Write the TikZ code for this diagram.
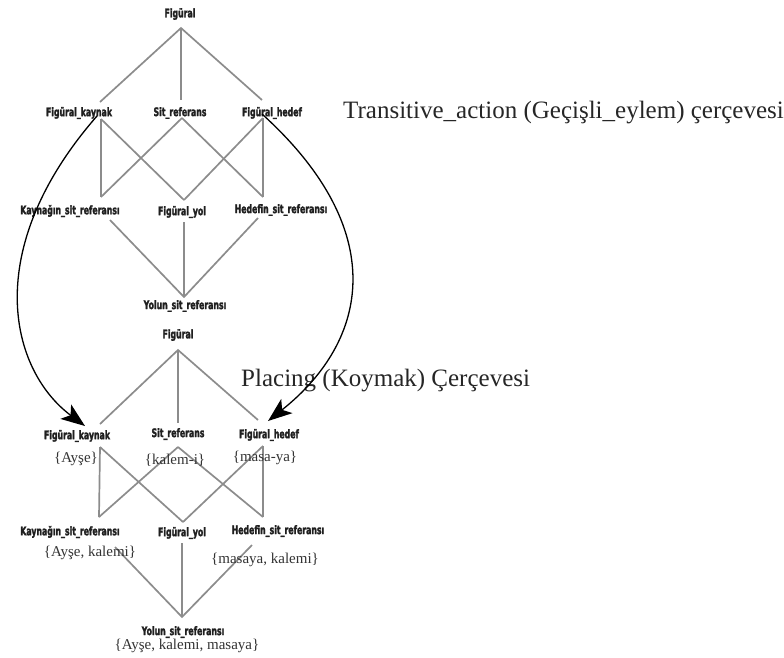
\documentclass[tikz,border=0pt]{standalone}
\usepackage{fontspec}
\setmainfont{Liberation Serif}
\newfontfamily\labfont[FakeStretch=0.66,FakeBold=2]{DejaVu Sans Bold}
\usetikzlibrary{arrows.meta}
\tikzset{
  lab/.style={font=\labfont\fontsize{11.8}{13}\selectfont, text=black!88, inner sep=0pt},
  setlab/.style={font=\fontsize{15}{17}\selectfont, text=black!80, inner sep=0pt},
  title/.style={font=\fontsize{25}{29}\selectfont, text=black!85, inner sep=0pt, anchor=west},
  lat/.style={draw=black!45, line width=1.7pt},
  mapto/.style={draw=black, line width=1.3pt, -{Stealth[length=24pt,width=18pt,inset=6pt]}}
}
\begin{document}
\begin{tikzpicture}[x=1pt,y=-1pt]
\useasboundingbox (0,0) rectangle (784,657);
% ---------- top lattice ----------
\coordinate (tA) at (181,28);
\coordinate (tKt) at (100,102); \coordinate (tSt) at (181,100); \coordinate (tHt) at (262,100);
\coordinate (tKb) at (101,119); \coordinate (tSb) at (182,118); \coordinate (tHb) at (263,118);
\coordinate (tKSt) at (101,197); \coordinate (tYt) at (184,200); \coordinate (tHSt) at (263,197);
\coordinate (tKSb) at (110,220); \coordinate (tYb) at (184,222); \coordinate (tHSb) at (258,218);
\coordinate (tYS) at (184,297);
\draw[lat] (tKt) -- (tA) -- (tHt);
\draw[lat] (tA) -- (tSt);
\draw[lat] (tKb) -- (tKSt);
\draw[lat] (tKb) -- (tYt);
\draw[lat] (tSb) -- (tKSt);
\draw[lat] (tSb) -- (tHSt);
\draw[lat] (tHb) -- (tYt);
\draw[lat] (tHb) -- (tHSt);
\draw[lat] (tKSb) -- (tYS) -- (tHSb);
\draw[lat] (tYb) -- (tYS);
\node[lab] (tFig) at (180,14) {Figüral};
\node[lab] (tFK) at (79,113) {Figüral\_kaynak};
\node[lab] (tSR) at (180,113) {Sit\_referans};
\node[lab] (tFH) at (272,113) {Figüral\_hedef};
\node[lab] (tKSR) at (70,211) {Kaynağın\_sit\_referansı};
\node[lab] (tFY) at (182,212) {Figüral\_yol};
\node[lab] (tHSR) at (281,210) {Hedefin\_sit\_referansı};
\node[lab] (tYSR) at (185,306) {Yolun\_sit\_referansı};
\node[title] (tTitle) at (343,113) {Transitive\_action (Geçişli\_eylem) çerçevesi};
% ---------- bottom lattice ----------
\coordinate (bA) at (178,350);
\coordinate (bKt) at (100,424); \coordinate (bSt) at (178,423); \coordinate (bHt) at (258,420);
\coordinate (bKb) at (100,447); \coordinate (bSb) at (178,447); \coordinate (bHb) at (263,446);
\coordinate (bKSt) at (99,517); \coordinate (bYt) at (183,522); \coordinate (bHSt) at (263,517);
\coordinate (bKSb) at (115,547); \coordinate (bYb) at (182,543); \coordinate (bHSb) at (252,545);
\coordinate (bYS) at (182,617);
\draw[lat] (bKt) -- (bA) -- (bHt);
\draw[lat] (bA) -- (bSt);
\draw[lat] (bKb) -- (bKSt);
\draw[lat] (bKb) -- (bYt);
\draw[lat] (bSb) -- (bKSt);
\draw[lat] (bSb) -- (bHSt);
\draw[lat] (bHb) -- (bYt);
\draw[lat] (bHb) -- (bHSt);
\draw[lat] (bKSb) -- (bYS) -- (bHSb);
\draw[lat] (bYb) -- (bYS);
\node[lab] (bFig) at (178,335) {Figüral};
\node[lab] (bFK) at (77,436) {Figüral\_kaynak};
\node[lab] (bSR) at (178,434) {Sit\_referans};
\node[lab] (bFH) at (269,435) {Figüral\_hedef};
\node[lab] (bKSR) at (70,532) {Kaynağın\_sit\_referansı};
\node[lab] (bFY) at (182,533) {Figüral\_yol};
\node[lab] (bHSR) at (278,531) {Hedefin\_sit\_referansı};
\node[lab] (bYSR) at (183,632) {Yolun\_sit\_referansı};
\node[setlab] (sAy) at (76,459) {\{Ayşe\}};
\node[setlab] (sKa) at (175,460) {\{kalem-i\}};
\node[setlab] (sMa) at (265,458) {\{masa-ya\}};
\node[setlab] (sAK) at (90,553) {\{Ayşe, kalemi\}};
\node[setlab] (sMK) at (265,560) {\{masaya, kalemi\}};
\node[setlab] (sAKM) at (187,646) {\{Ayşe, kalemi, masaya\}};
\node[title] (bTitle) at (241,381) {Placing (Koymak) Çerçevesi};
% ---------- mapping arrows ----------
\coordinate (aKs) at (97,116);
\coordinate (aKe) at (85,426);
\coordinate (aHs) at (262,114);
\coordinate (aHe) at (268,421);
\draw[mapto] (aKs) .. controls (-20,250) and (10,370) .. (aKe);
\draw[mapto] (aHs) .. controls (390,230) and (370,340) .. (aHe);
\end{tikzpicture}
\end{document}
